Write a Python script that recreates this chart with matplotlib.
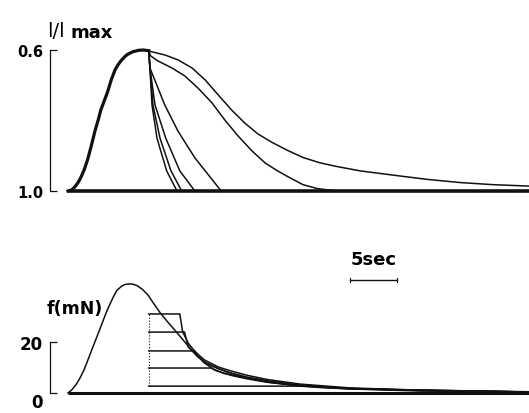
import matplotlib
matplotlib.use("Agg")
import matplotlib.pyplot as plt

# --- data (time in s) ---
# top panel: l/lmax
t_rise = [0, 0.4, 0.74, 1.1, 1.4, 1.75, 2.1, 2.5, 2.87, 3.2, 3.5, 3.85, 4.2, 4.6,
          5.0, 5.3, 5.6, 6.0, 6.3, 6.9, 7.5, 8.0, 8.6]
l_rise = [1.0, 0.997, 0.988, 0.975, 0.96, 0.938, 0.91, 0.87, 0.83, 0.80, 0.77, 0.745,
          0.72, 0.685, 0.657, 0.643, 0.632, 0.62, 0.613, 0.605, 0.601, 0.600, 0.602]

t_base_top = [0, 49.0]
l_base_top = [1.0, 1.0]

release_t = [
    [8.6, 10.3, 11.7, 13.2, 14.6, 16.0, 17.4, 18.8, 20.2, 21.7, 23.3, 25.0, 26.8,
     28.5, 31.1, 34.6, 38.2, 41.7, 45.2, 49.0],
    [8.6, 8.8, 9.57, 11.06, 12.45, 13.83, 15.32, 16.7, 18.1, 19.6, 21.0, 22.3, 23.1,
     24.0, 25.0, 26.5, 28.6],
    [8.6, 8.72, 10.3, 11.7, 13.5, 16.3],
    [8.6, 8.72, 9.26, 10.4, 11.9, 13.5],
    [8.6, 8.72, 9.04, 9.79, 10.96, 12.1],
    [8.6, 8.72, 8.94, 9.47, 10.5, 11.6],
]
release_l = [
    [0.603, 0.614, 0.628, 0.651, 0.685, 0.728, 0.770, 0.807, 0.838, 0.862, 0.884,
     0.905, 0.920, 0.930, 0.943, 0.955, 0.967, 0.976, 0.982, 0.986],
    [0.603, 0.617, 0.631, 0.651, 0.674, 0.708, 0.750, 0.799, 0.844, 0.887, 0.921,
     0.943, 0.955, 0.968, 0.982, 0.993, 1.0],
    [0.603, 0.651, 0.756, 0.830, 0.906, 1.0],
    [0.603, 0.651, 0.756, 0.850, 0.943, 1.0],
    [0.603, 0.651, 0.756, 0.850, 0.943, 1.0],
    [0.603, 0.651, 0.756, 0.850, 0.943, 1.0],
]

# bottom panel: force (mN)
t_force = [0, 0.4, 0.9, 1.3, 1.7, 2.0, 2.7, 3.4, 4.15, 4.8, 5.2, 5.7, 6.1, 6.6, 7.0,
           7.4, 7.9, 8.5, 9.1, 9.8, 10.6, 11.4, 12.2, 13.0, 13.8, 14.6, 15.4, 16.9,
           18.0, 19.0, 21.2, 24.7, 27.0, 30.0, 33.5, 37.4, 43.0, 49.0]
f_force = [0, 1.2, 3.5, 6.0, 9.0, 11.8, 18.5, 25.1, 32.3, 37.5, 40.2, 41.9, 42.6,
           42.8, 42.6, 42.0, 40.7, 38.5, 35.2, 31.5, 27.9, 24.5, 21.0, 17.5, 14.2,
           12.0, 10.5, 8.3, 6.9, 5.9, 4.3, 2.7, 2.1, 1.6, 1.2, 0.8, 0.6, 0.4]

t_base_bot = [0, 49.0]
f_base_bot = [0, 0]

step_t0 = 8.6
step_levels = [31.0, 23.9, 16.5, 9.8, 2.7]
step_t = [
    [8.6, 11.9, 12.2, 12.8, 13.5, 14.5, 16.0, 17.2, 19.0, 21.2, 24.7, 30.0, 37.4, 49.0],
    [8.6, 12.4, 12.8, 13.5, 14.5, 16.0, 17.2, 19.0, 21.2, 24.7, 30.0, 37.4, 49.0],
    [8.6, 13.5, 13.8, 14.5, 15.5, 16.5, 17.5, 19.0, 21.2, 24.7, 30.0, 49.0],
    [8.6, 15.3, 15.6, 16.5, 17.5, 19.0, 21.2, 24.7, 30.0, 49.0],
    [8.6, 25.5, 30.0, 37.4, 49.0],
]
step_f = [
    [31.0, 31.0, 24.0, 19.5, 16.3, 13.0, 10.2, 8.8, 7.0, 5.3, 3.5, 2.0, 1.1, 0.5],
    [23.9, 23.9, 18.0, 15.5, 12.2, 9.5, 8.0, 6.3, 4.8, 3.1, 1.8, 1.0, 0.4],
    [16.5, 16.5, 14.5, 11.8, 9.3, 7.8, 6.8, 5.6, 4.2, 2.8, 1.6, 0.4],
    [9.8, 9.8, 9.0, 7.9, 7.0, 5.9, 4.5, 2.9, 1.7, 0.4],
    [2.7, 2.7, 1.8, 1.0, 0.4],
]

scale_t = [30.0, 35.0]
scale_f = 44.3

# --- layout ---
W, H = 529, 414
fig = plt.figure(figsize=(W / 100, H / 100), dpi=100)


def box(x0, y0, x1, y1):
    return [x0 / W, 1 - y1 / H, (x1 - x0) / W, (y1 - y0) / H]


ax1 = fig.add_axes(box(50, 40, 529, 200))
ax2 = fig.add_axes(box(50, 240, 529, 405))

ink = "#111111"
num_font = dict(family="DejaVu Sans", weight="bold")

for ax in (ax1, ax2):
    ax.set_xlim(-1.91, 49.04)
    for s in ("top", "right", "bottom"):
        ax.spines[s].set_visible(False)
    ax.spines["left"].set_linewidth(0.9)
    ax.spines["left"].set_color(ink)
    ax.set_xticks([])
    ax.tick_params(axis="y", direction="in", length=5, width=0.9, color=ink, pad=5)
    ax.patch.set_alpha(0)

# top panel
ax1.set_ylim(1.0227, 0.5688)
ax1.spines["left"].set_bounds(0.6, 1.0)
ax1.set_yticks([0.6, 1.0])
ax1.set_yticklabels(["0.6", "1.0"], fontsize=10.5, **num_font)

ax1.plot(t_base_top, l_base_top, color=ink, lw=2.6, solid_capstyle="butt")
ax1.plot(t_rise, l_rise, color=ink, lw=2.3)
for tt, ll in zip(release_t, release_l):
    ax1.plot(tt, ll, color=ink, lw=1.1)

# bottom panel
ax2.set_ylim(-4.31, 60.4)
ax2.spines["left"].set_bounds(0, 20)
ax2.set_yticks([0, 20])
ax2.set_yticklabels(["0", "20"], fontsize=12, **num_font)
ax2.get_yticklabels()[0].set_verticalalignment("top")

ax2.plot(t_base_bot, f_base_bot, color=ink, lw=2.2, solid_capstyle="butt")
ax2.plot(t_force, f_force, color=ink, lw=1.1)
for tt, ff in zip(step_t, step_f):
    ax2.plot(tt, ff, color=ink, lw=1.1)
ax2.plot([step_t0, step_t0], [step_levels[-1], step_levels[0]],
         color=ink, lw=0.8, ls=":")

# 5 s scale bar
ax2.plot(scale_t, [scale_f, scale_f], color=ink, lw=1.0)
for x in scale_t:
    ax2.plot([x, x], [scale_f - 0.9, scale_f + 0.9], color=ink, lw=0.8)
ax2.text(sum(scale_t) / 2, 50.6, "5sec", ha="center", va="baseline",
         fontsize=13, **num_font)

# axis titles
fig.text(47 / W, 1 - 37 / H, "l/l", fontsize=14, family="DejaVu Sans",
         ha="left", va="baseline")
fig.text(70 / W, 1 - 38 / H, "max", fontsize=13, ha="left", va="baseline",
         **num_font)
fig.text(47 / W, 1 - 314 / H, "f(mN)", fontsize=12.5, ha="left", va="baseline",
         **num_font)

fig.savefig("out.png", dpi=100)
